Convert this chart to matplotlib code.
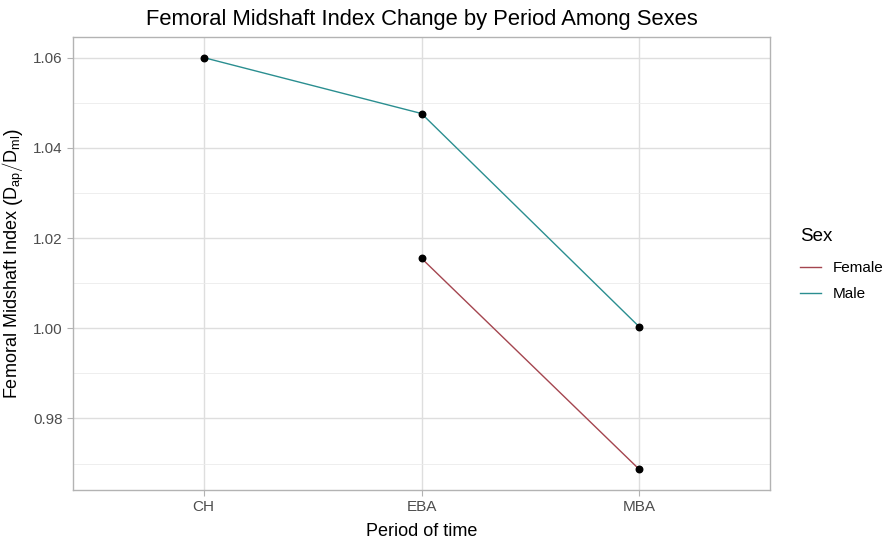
import matplotlib
matplotlib.use("Agg")
import matplotlib.pyplot as plt
from matplotlib.lines import Line2D

periods = ["CH", "EBA", "MBA"]
female_periods = ["EBA", "MBA"]
female_values = [1.0155, 0.9687]
male_periods = ["CH", "EBA", "MBA"]
male_values = [1.0600, 1.0476, 1.0003]
y_ticks = [0.98, 1.00, 1.02, 1.04, 1.06]
y_minor = [0.97, 0.99, 1.01, 1.03, 1.05]

plt.rcParams['font.family'] = ['Liberation Sans', 'DejaVu Sans']
plt.rcParams['mathtext.fontset'] = 'custom'
plt.rcParams['mathtext.rm'] = 'Liberation Sans'
plt.rcParams['mathtext.it'] = 'Liberation Sans'

female_col = "#A4454F"
male_col = "#2A8E90"

fig = plt.figure(figsize=(8.89, 5.39), dpi=100)
ax = fig.add_axes([73/889, 1-490/539, (770-73)/889, (490-37)/539])

pos = {p: i+1 for i, p in enumerate(periods)}
ax.plot([pos[p] for p in female_periods], female_values, color=female_col, lw=1.0, zorder=3)
ax.plot([pos[p] for p in male_periods], male_values, color=male_col, lw=1.0, zorder=3)
ax.scatter([pos[p] for p in female_periods], female_values, color='black', s=22, zorder=4)
ax.scatter([pos[p] for p in male_periods], male_values, color='black', s=22, zorder=4)

ymin = min(female_values + male_values); ymax = max(female_values + male_values)
pad = (ymax - ymin) * 0.05
ax.set_ylim(ymin - pad, ymax + pad)
ax.set_xlim(0.4, 3.6)

ax.set_xticks([1, 2, 3])
ax.set_xticklabels(periods)
ax.set_yticks(y_ticks)
ax.set_yticklabels([f"{v:.2f}" for v in y_ticks])
ax.set_yticks(y_minor, minor=True)
ax.tick_params(axis='both', which='major', colors='#B3B3B3', labelcolor='#4D4D4D', labelsize=11, length=4, width=0.8)
ax.tick_params(axis='y', which='minor', length=0)
ax.grid(True, which='major', color='#DEDEDE', lw=1.0, zorder=0)
ax.grid(True, which='minor', axis='y', color='#EBEBEB', lw=0.6, zorder=0)
for s in ax.spines.values():
    s.set_color('#B3B3B3')
    s.set_linewidth(1.0)
ax.set_axisbelow(True)

ax.set_xlabel("Period of time", fontsize=13, color='black', labelpad=6)
ylab_fancy = r"Femoral Midshaft Index $\left(\mathrm{D_{ap}}\middle/\mathrm{D_{ml}}\right)$"
ylab_plain = r"Femoral Midshaft Index $\left(\mathrm{D_{ap}}/\mathrm{D_{ml}}\right)$"
yl = ax.set_ylabel(ylab_fancy, fontsize=13, color='black', labelpad=5)
try:
    fig.canvas.draw()
except Exception:
    yl.set_text(ylab_plain)
ax.set_title("Femoral Midshaft Index Change by Period Among Sexes", fontsize=15.8, pad=9)

handles = [Line2D([0], [0], color=female_col, lw=1.0), Line2D([0], [0], color=male_col, lw=1.0)]
leg = fig.legend(handles, ["Female", "Male"], title="Sex", loc='upper left',
                 bbox_to_anchor=(786/889, 1-214/539), frameon=False, fontsize=11,
                 title_fontsize=13.5, handlelength=1.4, handletextpad=0.75,
                 labelspacing=0.75, alignment='left')
leg._legend_box.sep = 12

fig.savefig("out.png", dpi=100)
